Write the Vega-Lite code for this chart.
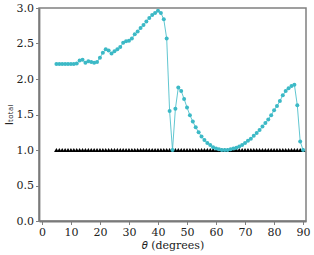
{
  "$schema": "https://vega.github.io/schema/vega-lite/v6.json",
  "autosize": "none",
  "padding": {"left": 39, "top": 8, "right": 8, "bottom": 34},
  "width": 267,
  "height": 213,
  "background": "white",
  "config": {
    "view": {"stroke": "#808080", "strokeWidth": 1.5},
    "axis": {
      "grid": false,
      "domainColor": "#7a7a7a",
      "domainWidth": 1.8,
      "tickColor": "#808080",
      "tickSize": 3.5,
      "tickWidth": 1,
      "labelFont": "DejaVu Serif",
      "labelFontSize": 11,
      "labelColor": "#222",
      "titleFontWeight": "normal",
      "titleColor": "#222"
    }
  },
  "datasets": {
    "curve": [
      {"deg": 5, "val": 2.21}, {"deg": 6, "val": 2.21}, {"deg": 7, "val": 2.21}, {"deg": 8, "val": 2.21},
      {"deg": 9, "val": 2.21}, {"deg": 10, "val": 2.21}, {"deg": 11, "val": 2.21}, {"deg": 12, "val": 2.22},
      {"deg": 13, "val": 2.26}, {"deg": 14, "val": 2.27}, {"deg": 15, "val": 2.23}, {"deg": 16, "val": 2.25},
      {"deg": 17, "val": 2.24}, {"deg": 18, "val": 2.23}, {"deg": 19, "val": 2.24}, {"deg": 20, "val": 2.30},
      {"deg": 21, "val": 2.37}, {"deg": 22, "val": 2.42}, {"deg": 23, "val": 2.40}, {"deg": 24, "val": 2.36},
      {"deg": 25, "val": 2.39}, {"deg": 26, "val": 2.42}, {"deg": 27, "val": 2.45}, {"deg": 28, "val": 2.51},
      {"deg": 29, "val": 2.53}, {"deg": 30, "val": 2.54}, {"deg": 31, "val": 2.57}, {"deg": 32, "val": 2.63},
      {"deg": 33, "val": 2.67}, {"deg": 34, "val": 2.72}, {"deg": 35, "val": 2.76}, {"deg": 36, "val": 2.81},
      {"deg": 37, "val": 2.86}, {"deg": 38, "val": 2.90}, {"deg": 39, "val": 2.93}, {"deg": 40, "val": 2.96},
      {"deg": 41, "val": 2.93}, {"deg": 42, "val": 2.84}, {"deg": 43, "val": 2.57}, {"deg": 44, "val": 1.55},
      {"deg": 45, "val": 1.00}, {"deg": 46, "val": 1.58}, {"deg": 47, "val": 1.88}, {"deg": 48, "val": 1.83},
      {"deg": 49, "val": 1.72}, {"deg": 50, "val": 1.60}, {"deg": 51, "val": 1.49}, {"deg": 52, "val": 1.40},
      {"deg": 53, "val": 1.32}, {"deg": 54, "val": 1.25}, {"deg": 55, "val": 1.19}, {"deg": 56, "val": 1.14},
      {"deg": 57, "val": 1.10}, {"deg": 58, "val": 1.07}, {"deg": 59, "val": 1.04}, {"deg": 60, "val": 1.02},
      {"deg": 61, "val": 1.01}, {"deg": 62, "val": 1.00}, {"deg": 63, "val": 1.00}, {"deg": 64, "val": 1.00},
      {"deg": 65, "val": 1.01}, {"deg": 66, "val": 1.02}, {"deg": 67, "val": 1.03}, {"deg": 68, "val": 1.05},
      {"deg": 69, "val": 1.07}, {"deg": 70, "val": 1.10}, {"deg": 71, "val": 1.13}, {"deg": 72, "val": 1.16},
      {"deg": 73, "val": 1.20}, {"deg": 74, "val": 1.24}, {"deg": 75, "val": 1.28}, {"deg": 76, "val": 1.33},
      {"deg": 77, "val": 1.38}, {"deg": 78, "val": 1.43}, {"deg": 79, "val": 1.49}, {"deg": 80, "val": 1.56},
      {"deg": 81, "val": 1.62}, {"deg": 82, "val": 1.69}, {"deg": 83, "val": 1.77}, {"deg": 84, "val": 1.83},
      {"deg": 85, "val": 1.87}, {"deg": 86, "val": 1.90}, {"deg": 87, "val": 1.92}, {"deg": 88, "val": 1.63},
      {"deg": 89, "val": 1.12}, {"deg": 90, "val": 1.00}
    ],
    "base": [
      {"deg": 5, "val": 1}, {"deg": 6, "val": 1}, {"deg": 7, "val": 1}, {"deg": 8, "val": 1}, {"deg": 9, "val": 1},
      {"deg": 10, "val": 1}, {"deg": 11, "val": 1}, {"deg": 12, "val": 1}, {"deg": 13, "val": 1}, {"deg": 14, "val": 1},
      {"deg": 15, "val": 1}, {"deg": 16, "val": 1}, {"deg": 17, "val": 1}, {"deg": 18, "val": 1}, {"deg": 19, "val": 1},
      {"deg": 20, "val": 1}, {"deg": 21, "val": 1}, {"deg": 22, "val": 1}, {"deg": 23, "val": 1}, {"deg": 24, "val": 1},
      {"deg": 25, "val": 1}, {"deg": 26, "val": 1}, {"deg": 27, "val": 1}, {"deg": 28, "val": 1}, {"deg": 29, "val": 1},
      {"deg": 30, "val": 1}, {"deg": 31, "val": 1}, {"deg": 32, "val": 1}, {"deg": 33, "val": 1}, {"deg": 34, "val": 1},
      {"deg": 35, "val": 1}, {"deg": 36, "val": 1}, {"deg": 37, "val": 1}, {"deg": 38, "val": 1}, {"deg": 39, "val": 1},
      {"deg": 40, "val": 1}, {"deg": 41, "val": 1}, {"deg": 42, "val": 1}, {"deg": 43, "val": 1}, {"deg": 44, "val": 1},
      {"deg": 45, "val": 1}, {"deg": 46, "val": 1}, {"deg": 47, "val": 1}, {"deg": 48, "val": 1}, {"deg": 49, "val": 1},
      {"deg": 50, "val": 1}, {"deg": 51, "val": 1}, {"deg": 52, "val": 1}, {"deg": 53, "val": 1}, {"deg": 54, "val": 1},
      {"deg": 55, "val": 1}, {"deg": 56, "val": 1}, {"deg": 57, "val": 1}, {"deg": 58, "val": 1}, {"deg": 59, "val": 1},
      {"deg": 60, "val": 1}, {"deg": 61, "val": 1}, {"deg": 62, "val": 1}, {"deg": 63, "val": 1}, {"deg": 64, "val": 1},
      {"deg": 65, "val": 1}, {"deg": 66, "val": 1}, {"deg": 67, "val": 1}, {"deg": 68, "val": 1}, {"deg": 69, "val": 1},
      {"deg": 70, "val": 1}, {"deg": 71, "val": 1}, {"deg": 72, "val": 1}, {"deg": 73, "val": 1}, {"deg": 74, "val": 1},
      {"deg": 75, "val": 1}, {"deg": 76, "val": 1}, {"deg": 77, "val": 1}, {"deg": 78, "val": 1}, {"deg": 79, "val": 1},
      {"deg": 80, "val": 1}, {"deg": 81, "val": 1}, {"deg": 82, "val": 1}, {"deg": 83, "val": 1}, {"deg": 84, "val": 1},
      {"deg": 85, "val": 1}, {"deg": 86, "val": 1}, {"deg": 87, "val": 1}, {"deg": 88, "val": 1}, {"deg": 89, "val": 1},
      {"deg": 90, "val": 1}
    ]
  },
  "encoding": {
    "x": {
      "field": "deg", "type": "quantitative",
      "scale": {"domain": [-1, 91], "nice": false, "zero": false},
      "axis": {"values": [0, 10, 20, 30, 40, 50, 60, 70, 80, 90], "title": "𝜃 (degrees)", "titleFont": "DejaVu Serif", "titleFontSize": 11, "titlePadding": 2, "labelPadding": 2}
    },
    "y": {
      "field": "val", "type": "quantitative",
      "scale": {"domain": [0, 3], "nice": false},
      "axis": {"values": [0, 0.5, 1, 1.5, 2, 2.5, 3], "format": ".1f", "title": "Iₜₒₜₐₗ", "titleFont": "DejaVu Sans", "titleFontSize": 11, "titlePadding": 2, "labelPadding": 2}
    }
  },
  "layer": [
    {
      "data": {"name": "base"},
      "mark": {"type": "point", "shape": "triangle-up", "filled": true, "color": "black", "size": 22, "opacity": 1}
    },
    {
      "data": {"name": "curve"},
      "mark": {"type": "line", "color": "#45bcc8", "strokeWidth": 1, "opacity": 0.85}
    },
    {
      "data": {"name": "curve"},
      "mark": {"type": "circle", "color": "#3cb9c6", "size": 16, "opacity": 1}
    }
  ]
}
